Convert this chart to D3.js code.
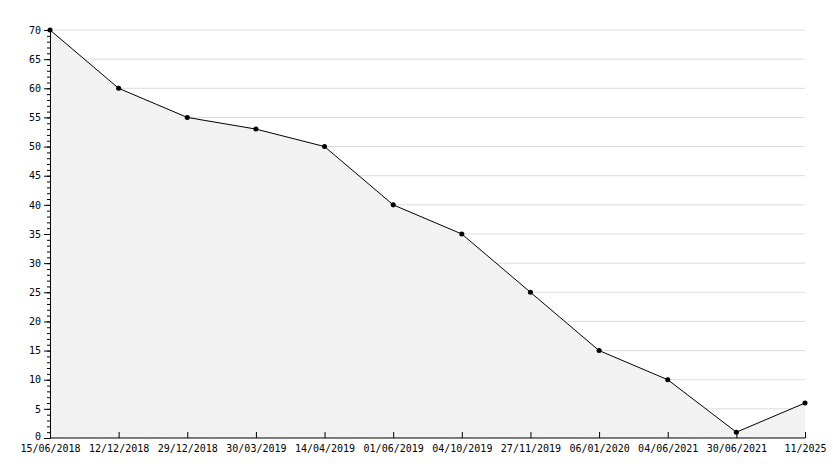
<!DOCTYPE html><html><head><script src="https://cdn.jsdelivr.net/npm/d3@7"></script>
<style>body{margin:0;background:#fff}text{font-family:"DejaVu Sans Mono",monospace;font-size:10px;fill:#000}</style></head><body><svg id="c" width="834" height="468"></svg>
<script>
const categories=["15/06/2018","12/12/2018","29/12/2018","30/03/2019","14/04/2019","01/06/2019","04/10/2019","27/11/2019","06/01/2020","04/06/2021","30/06/2021","11/2025"];
const values=[70,60,55,53,50,40,35,25,15,10,1,6];
const yTicks=d3.range(0,71,5);
const svg=d3.select("#c");
const x=d3.scalePoint().domain(categories).range([50,805]);
const y=d3.scaleLinear().domain([0,70]).range([438,30]);
svg.append("g").selectAll("line").data(yTicks.filter(d=>d>0)).join("line")
 .attr("x1",50).attr("x2",805).attr("y1",d=>y(d)).attr("y2",d=>y(d)).attr("stroke","#dcdcdc");
const pts=categories.map((c,i)=>[x(c),y(values[i])]);
svg.append("path").attr("d",d3.area().x(d=>d[0]).y0(y(0)).y1(d=>d[1])(pts)).attr("fill","#f2f2f2");
svg.append("path").attr("d",d3.line()(pts)).attr("fill","none").attr("stroke","#000").attr("stroke-width",1);
svg.append("g").selectAll("path").data(pts).join("path").attr("transform",d=>`translate(${d[0]},${d[1]})`)
 .attr("d",d3.symbol(d3.symbolCircle,20)).attr("fill","#000");
const ya=svg.append("g").attr("transform","translate(50,0)");
ya.call(d3.axisLeft(y).tickValues(d3.range(0,71,1)).tickSize(3).tickFormat(""));
ya.call(g=>g.selectAll(".domain").attr("stroke","#000"));
const yb=svg.append("g").attr("transform","translate(50,0)").call(d3.axisLeft(y).tickValues(yTicks).tickSize(6).tickPadding(3));
yb.select(".domain").remove();
yb.selectAll(".tick").filter(d=>d===0).select("text").attr("dy","0.1em");
const xa=svg.append("g").attr("transform","translate(0,438)").call(d3.axisBottom(x).tickSize(-6).tickPadding(3).tickSizeOuter(0));
xa.select(".domain").attr("d","M50,0H805").attr("stroke","#000");
xa.selectAll("text").attr("dy","1.1em");
svg.selectAll(".tick line").attr("stroke","#000");
svg.selectAll(".tick text").style("font-family",'"DejaVu Sans Mono",monospace').style("font-size","10px");
</script></body></html>
